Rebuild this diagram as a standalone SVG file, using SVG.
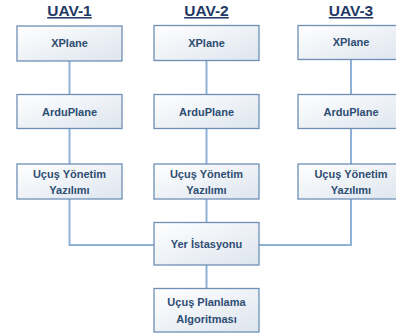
<svg xmlns="http://www.w3.org/2000/svg" width="396" height="335" viewBox="0 0 396 335">
<defs>
<linearGradient id="g" x1="0" y1="0" x2="1" y2="1">
<stop offset="0" stop-color="#ffffff"/>
<stop offset="1" stop-color="#dde5ee"/>
</linearGradient>
<style>
.box{fill:url(#g);stroke:#6f8fb5;stroke-width:1.3}
.t{font-family:"Liberation Sans",Arial,sans-serif;font-weight:bold;font-size:11px;fill:#2e4d73;text-anchor:middle}
.h{font-family:"Liberation Sans",Arial,sans-serif;font-weight:bold;font-size:15.5px;fill:#1f3864;text-anchor:middle;text-decoration:underline}
.c{stroke:#8eb1d8;stroke-width:2;fill:none}
</style>
</defs>
<rect width="396" height="335" fill="#ffffff"/>
<g id="connectors">
<path class="c" d="M69.5 61V94M69.5 128V164M69.5 199V245H154"/>
<path class="c" d="M206.5 60V95M206.5 129V164M206.5 199V222M206.5 265V288"/>
<path class="c" d="M351 59V94M351 128V164M351 199V245H259"/>
</g>
<g id="title1"><text class="h" x="69.5" y="16">UAV-1</text></g>
<g id="title2"><text class="h" x="206.5" y="16">UAV-2</text></g>
<g id="title3"><text class="h" x="351" y="16">UAV-3</text></g>
<g id="xplane1"><rect class="box" x="17" y="26" width="105" height="35"/><text class="t" x="69.5" y="47">XPlane</text></g>
<g id="xplane2"><rect class="box" x="154" y="25.5" width="105" height="35"/><text class="t" x="206.5" y="47">XPlane</text></g>
<g id="xplane3"><rect class="box" x="298" y="25.5" width="106" height="34"/><text class="t" x="351" y="46">XPlane</text></g>
<g id="ardu1"><rect class="box" x="17" y="94.5" width="105" height="34"/><text class="t" x="69.5" y="115.5">ArduPlane</text></g>
<g id="ardu2"><rect class="box" x="154" y="94.5" width="105" height="34"/><text class="t" x="206.5" y="115.5">ArduPlane</text></g>
<g id="ardu3"><rect class="box" x="298" y="94.5" width="106" height="34"/><text class="t" x="351" y="115.5">ArduPlane</text></g>
<g id="ucus1"><rect class="box" x="17" y="164" width="105" height="35"/><text class="t" x="69.5" y="177.5">Uçuş Yönetim</text><text class="t" x="69.5" y="194">Yazılımı</text></g>
<g id="ucus2"><rect class="box" x="154" y="164" width="105" height="35"/><text class="t" x="206.5" y="177.5">Uçuş Yönetim</text><text class="t" x="206.5" y="194">Yazılımı</text></g>
<g id="ucus3"><rect class="box" x="298" y="164" width="106" height="35"/><text class="t" x="351" y="177.5">Uçuş Yönetim</text><text class="t" x="351" y="194">Yazılımı</text></g>
<g id="yer"><rect class="box" x="154" y="222.5" width="105" height="42.5"/><text class="t" x="206.5" y="247.5">Yer İstasyonu</text></g>
<g id="planlama"><rect class="box" x="154" y="288.5" width="105" height="43.5"/><text class="t" x="206.5" y="306">Uçuş Planlama</text><text class="t" x="206.5" y="322.5">Algoritması</text></g>
</svg>
